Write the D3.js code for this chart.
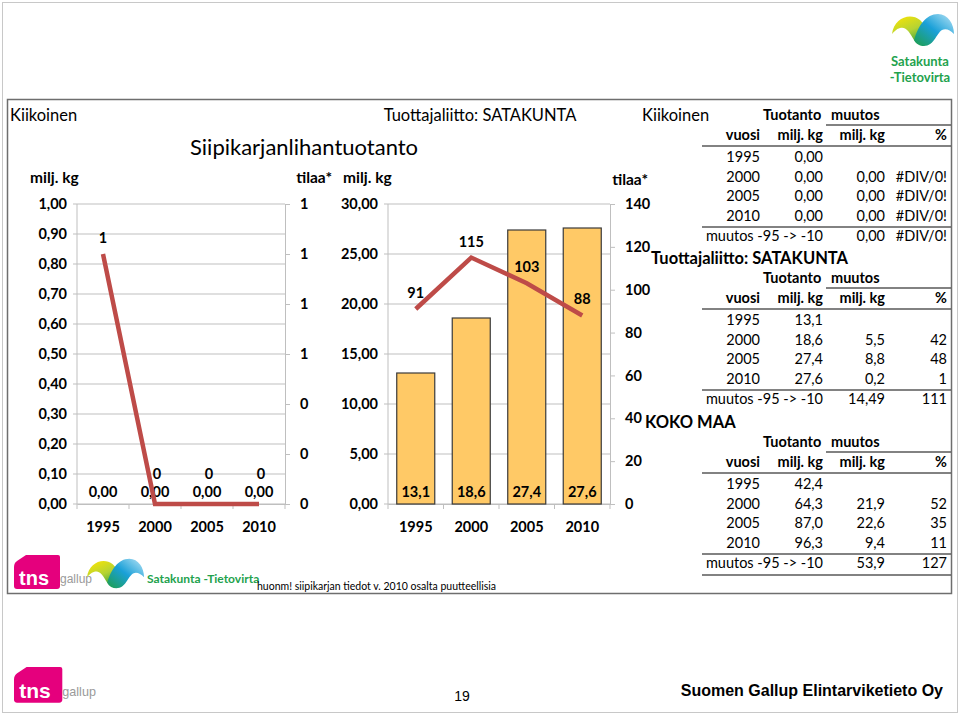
<!DOCTYPE html>
<html><head><meta charset="utf-8">
<script src="https://cdn.jsdelivr.net/npm/d3@7"></script>
<style>
html,body{margin:0;padding:0;background:#fff;}
svg{display:block;font-family:Lato,"Open Sans",sans-serif;}
</style></head>
<body><svg id="c" width="960" height="715"></svg>
<script>
// ---- data ----
const years = ["1995", "2000", "2005", "2010"];
const kiikoinenProd = [0, 0, 0, 0];          // milj. kg (bars)
const kiikoinenFarms = [1, 0, 0, 0];         // tilaa (line)
const satakuntaProd = [13.1, 18.6, 27.4, 27.6];
const satakuntaFarms = [91, 115, 103, 88];
const leftTicksK = [0, 0.1, 0.2, 0.3, 0.4, 0.5, 0.6, 0.7, 0.8, 0.9, 1.0];
const rightTicksK = [0, 0.2, 0.4, 0.6, 0.8, 1.0, 1.2];
const leftTicksS = [0, 5, 10, 15, 20, 25, 30];
const rightTicksS = [0, 20, 40, 60, 80, 100, 120, 140];

const tabKiikoinenProd = ["0,00", "0,00", "0,00", "0,00"];
const tabKiikoinenChg = ["", "0,00", "0,00", "0,00"];
const tabKiikoinenPct = ["", "#DIV/0!", "#DIV/0!", "#DIV/0!"];
const tabKiikoinenTotal = ["0,00", "#DIV/0!"];
const tabSatakuntaProd = ["13,1", "18,6", "27,4", "27,6"];
const tabSatakuntaChg = ["", "5,5", "8,8", "0,2"];
const tabSatakuntaPct = ["", "42", "48", "1"];
const tabSatakuntaTotal = ["14,49", "111"];
const tabKokoProd = ["42,4", "64,3", "87,0", "96,3"];
const tabKokoChg = ["", "21,9", "22,6", "9,4"];
const tabKokoPct = ["", "52", "35", "11"];
const tabKokoTotal = ["53,9", "127"];

const fi = d3.formatLocale({decimal: ",", thousands: " ", grouping: [3], currency: ["", "€"]});
const f2 = fi.format(".2f"), f1 = fi.format(".1f"), f0 = fi.format(".0f");

const svg = d3.select("#c");
const GRID = "#BFBFBF", LINE = "#BE4B48", BAR = "#FFC966", TXT = "#000";

// frames
svg.append("rect").attr("x", 2.5).attr("y", 2.5).attr("width", 955).attr("height", 710)
  .attr("fill", "none").attr("stroke", "#C8C8C8").attr("stroke-width", 1);
svg.append("rect").attr("x", 7.5).attr("y", 99.5).attr("width", 944).attr("height", 494)
  .attr("fill", "none").attr("stroke", "#6E6E6E").attr("stroke-width", 1.5);

function combo(cfg) {
  const g = svg.append("g");
  const x = d3.scaleBand().domain(years).range([cfg.x0, cfg.x1]).paddingInner(0.315).paddingOuter(0.1575);
  const yL = d3.scaleLinear().domain([0, cfg.leftMax]).range([504, 204]);
  const yR = d3.scaleLinear().domain([0, cfg.rightMax]).range([504, 204]);
  g.append("g").selectAll("line").data(cfg.leftTicks).join("line")
    .attr("x1", cfg.x0 - 4).attr("x2", cfg.x1).attr("y1", d => yL(d)).attr("y2", d => yL(d))
    .attr("stroke", GRID).attr("stroke-width", 1);
  g.append("line").attr("x1", cfg.x0).attr("x2", cfg.x0).attr("y1", 204).attr("y2", 504).attr("stroke", GRID);
  const aL = d3.axisLeft(yL).tickValues(cfg.leftTicks).tickFormat(f2).tickSize(0).tickPadding(10);
  const gl = g.append("g").attr("transform", `translate(${cfg.x0},0)`).call(aL);
  gl.select(".domain").remove();
  gl.selectAll("text").attr("font-size", 14.5).attr("font-weight", "bold").attr("fill", TXT).attr("font-family", "Lato");
  const aR = d3.axisRight(yR).tickValues(cfg.rightTicks).tickFormat(f0).tickSize(5).tickSizeOuter(0).tickPadding(cfg.rPad);
  const gr = g.append("g").attr("transform", `translate(${cfg.x1},0)`).call(aR);
  gr.select(".domain").attr("stroke", GRID);
  gr.selectAll("line").attr("stroke", GRID);
  gr.selectAll("text").attr("font-size", 14.5).attr("font-weight", "bold").attr("fill", TXT).attr("font-family", "Lato");
  const aB = d3.axisBottom(x).tickSize(0).tickPadding(18);
  const gb = g.append("g").attr("transform", "translate(0,504)").call(aB);
  gb.select(".domain").attr("stroke", GRID);
  gb.selectAll("text").attr("font-size", 14.5).attr("font-weight", "bold").attr("fill", TXT).attr("font-family", "Lato");
  const step = x.step();
  g.append("g").selectAll("line").data(d3.range(years.length + 1)).join("line")
    .attr("x1", i => cfg.x0 + i * step).attr("x2", i => cfg.x0 + i * step)
    .attr("y1", 504).attr("y2", 509).attr("stroke", GRID);
  g.append("g").selectAll("rect").data(cfg.bars.filter(v => v > 0).length ? cfg.bars : []).join("rect")
    .attr("x", (d, i) => x(years[i])).attr("width", x.bandwidth())
    .attr("y", d => yL(d)).attr("height", d => 504 - yL(d))
    .attr("fill", BAR).attr("stroke", "#3A3A3A").attr("stroke-width", 1.2);
  g.append("g").selectAll("text").data(cfg.bars).join("text")
    .attr("x", (d, i) => x(years[i]) + x.bandwidth() / 2).attr("y", 497)
    .attr("text-anchor", "middle").attr("font-size", 14.5).attr("font-weight", "bold")
    .text(d => cfg.barFmt(d));
  const line = d3.line().x((d, i) => x(years[i]) + x.bandwidth() / 2).y(d => yR(d));
  g.append("path").datum(cfg.line).attr("d", line).attr("fill", "none")
    .attr("stroke", LINE).attr("stroke-width", 4.5);
  g.append("g").selectAll("text").data(cfg.line).join("text")
    .attr("x", (d, i) => x(years[i]) + x.bandwidth() / 2 + (cfg.lineDx ? cfg.lineDx[i] : 0))
    .attr("y", d => yR(d) - (cfg.lineDy ? cfg.lineDy(d) : 11))
    .attr("text-anchor", "middle").attr("font-size", 14.5).attr("font-weight", "bold")
    .text(d => f0(d));
}

combo({x0: 77, x1: 285, leftMax: 1.0, rightMax: 1.2, leftTicks: leftTicksK, rightTicks: rightTicksK,
  bars: kiikoinenProd, line: kiikoinenFarms, barFmt: f2, rPad: 10, lineDx: [0, 2, 2, 2],
  lineDy: d => d > 0 ? 11 : 25});
combo({x0: 388, x1: 610, leftMax: 30, rightMax: 140, leftTicks: leftTicksS, rightTicks: rightTicksS,
  bars: satakuntaProd, line: satakuntaFarms, barFmt: f1, rPad: 10});

function txt(x, y, s, size, opt = {}) {
  return svg.append("text").attr("x", x).attr("y", y).attr("font-size", size)
    .attr("font-weight", opt.bold ? "bold" : "normal").attr("text-anchor", opt.anchor || "start")
    .attr("fill", opt.fill || TXT).attr("font-family", opt.family || "Lato").text(s);
}
txt(10, 121, "Kiikoinen", 16.5);
txt(480, 121, "Tuottajaliitto: SATAKUNTA", 16.5, {anchor: "middle"});
txt(642, 121, "Kiikoinen", 16.5);
txt(190, 155, "Siipikarjanlihantuotanto", 22);
txt(30, 183, "milj. kg", 15.5, {bold: true});
txt(332, 183, "tilaa*", 15.5, {bold: true, anchor: "end"});
txt(343, 183, "milj. kg", 15.5, {bold: true});
txt(648, 185, "tilaa*", 15.5, {bold: true, anchor: "end"});

function table(top, title, prod, chg, pct, total, bottomLine, titleX) {
  const g = svg.append("g");
  const cx = {vuosi: 760, prod: 823, chg: 885, pct: 947};
  const fs = 14.5;
  if (title) txt(titleX || 643, top - 15, title, 16.5, {bold: true});
  txt(763, top + 4, "Tuotanto", fs, {bold: true});
  txt(831, top + 4, "muutos", fs, {bold: true});
  g.append("line").attr("x1", 826).attr("x2", 951).attr("y1", top + 9).attr("y2", top + 9).attr("stroke", "#595959").attr("stroke-width", 1.5);
  const hy = top + 24;
  txt(cx.vuosi, hy, "vuosi", fs, {bold: true, anchor: "end"});
  txt(cx.prod, hy, "milj. kg", fs, {bold: true, anchor: "end"});
  txt(cx.chg, hy, "milj. kg", fs, {bold: true, anchor: "end"});
  txt(cx.pct, hy, "%", fs, {bold: true, anchor: "end"});
  g.append("line").attr("x1", 702).attr("x2", 951).attr("y1", top + 30).attr("y2", top + 30).attr("stroke", "#595959").attr("stroke-width", 1.5);
  years.forEach((yr, i) => {
    const y = top + 46 + i * 19.6;
    txt(cx.vuosi, y, yr, fs, {anchor: "end"});
    txt(cx.prod, y, prod[i], fs, {anchor: "end"});
    txt(cx.chg, y, chg[i], fs, {anchor: "end"});
    txt(cx.pct, y, pct[i], fs, {anchor: "end"});
  });
  g.append("line").attr("x1", 702).attr("x2", 951).attr("y1", top + 111).attr("y2", top + 111).attr("stroke", "#595959").attr("stroke-width", 1.5);
  const ty = top + 125;
  txt(cx.prod, ty, "muutos -95 -> -10", fs, {anchor: "end"});
  txt(cx.chg, ty, total[0], fs, {anchor: "end"});
  txt(cx.pct, ty, total[1], fs, {anchor: "end"});
  if (bottomLine) g.append("line").attr("x1", 702).attr("x2", 951).attr("y1", top + 132).attr("y2", top + 132).attr("stroke", "#595959").attr("stroke-width", 1.5);
}
table(116, null, tabKiikoinenProd, tabKiikoinenChg, tabKiikoinenPct, tabKiikoinenTotal, false);
table(279, "Tuottajaliitto: SATAKUNTA", tabSatakuntaProd, tabSatakuntaChg, tabSatakuntaPct, tabSatakuntaTotal, false, 651);
table(443, "KOKO MAA", tabKokoProd, tabKokoChg, tabKokoPct, tabKokoTotal, true, 645);

function tns(x, y, s) {
  const g = svg.append("g").attr("transform", `translate(${x},${y}) scale(${s})`);
  g.append("path").attr("d", "M12,0 L44,0 Q46,0 46,2 L46,31 Q46,34 43,34 L3,34 Q0,34 0,31 L0,12 Q0,8 3,6 Z")
    .attr("fill", "#E5007D");
  g.append("text").attr("x", 5).attr("y", 30).attr("font-size", 20).attr("font-weight", "bold")
    .attr("fill", "#fff").attr("font-family", "Liberation Sans").text("tns");
  g.append("text").attr("x", 46).attr("y", 28).attr("font-size", 12)
    .attr("fill", "#9A9A9A").attr("font-family", "Liberation Sans Narrow, Liberation Sans").text("gallup");
}
tns(14, 555, 1);
tns(14, 667, 1.05);

function wave(x, y, s) {
  const defs = svg.append("defs");
  const id1 = "gy" + Math.round(x), id2 = "gb" + Math.round(x);
  const l1 = defs.append("linearGradient").attr("id", id1).attr("x1", 0).attr("y1", 0).attr("x2", 0.6).attr("y2", 1);
  l1.append("stop").attr("offset", 0).attr("stop-color", "#FFE600");
  l1.append("stop").attr("offset", 0.55).attr("stop-color", "#B5D334");
  l1.append("stop").attr("offset", 1).attr("stop-color", "#2E9E3E");
  const l2 = defs.append("linearGradient").attr("id", id2).attr("x1", 0).attr("y1", 1).attr("x2", 1).attr("y2", 0);
  l2.append("stop").attr("offset", 0).attr("stop-color", "#1E9E48");
  l2.append("stop").attr("offset", 0.5).attr("stop-color", "#1AA0D8");
  l2.append("stop").attr("offset", 1).attr("stop-color", "#B9E4F6");
  const g = svg.append("g").attr("transform", `translate(${x},${y}) scale(${s})`);
  g.append("path").attr("d", "M0,22 C2,6 18,0 28,8 C34,13 36,24 40,30 C34,35 26,34 22,28 C18,21 14,14 8,16 C4,17 2,20 0,22 Z")
    .attr("fill", `url(#${id1})`);
  g.append("path").attr("d", "M22,28 C26,14 34,2 46,2 C56,2 62,12 62,22 C58,18 54,16 50,18 C44,22 42,34 32,34 C28,34 24,32 22,28 Z")
    .attr("fill", `url(#${id2})`);
}
wave(892, 12, 1);
txt(920, 66, "Satakunta", 13, {anchor: "middle", fill: "#23A24D", bold: true});
txt(920, 82, "-Tietovirta", 13, {anchor: "middle", fill: "#23A24D", bold: true});
wave(87, 557, 0.92);
txt(147, 583, "Satakunta -Tietovirta", 12, {fill: "#23A24D", bold: true});
txt(257, 590, "huonm! siipikarjan tiedot v. 2010 osalta puutteellisia", 10.5);

txt(462, 701, "19", 14, {anchor: "middle", family: "Liberation Sans Narrow, Liberation Sans"});
txt(943, 696, "Suomen Gallup Elintarviketieto Oy", 16, {anchor: "end", bold: true, family: "Liberation Sans"});
</script></body></html>
